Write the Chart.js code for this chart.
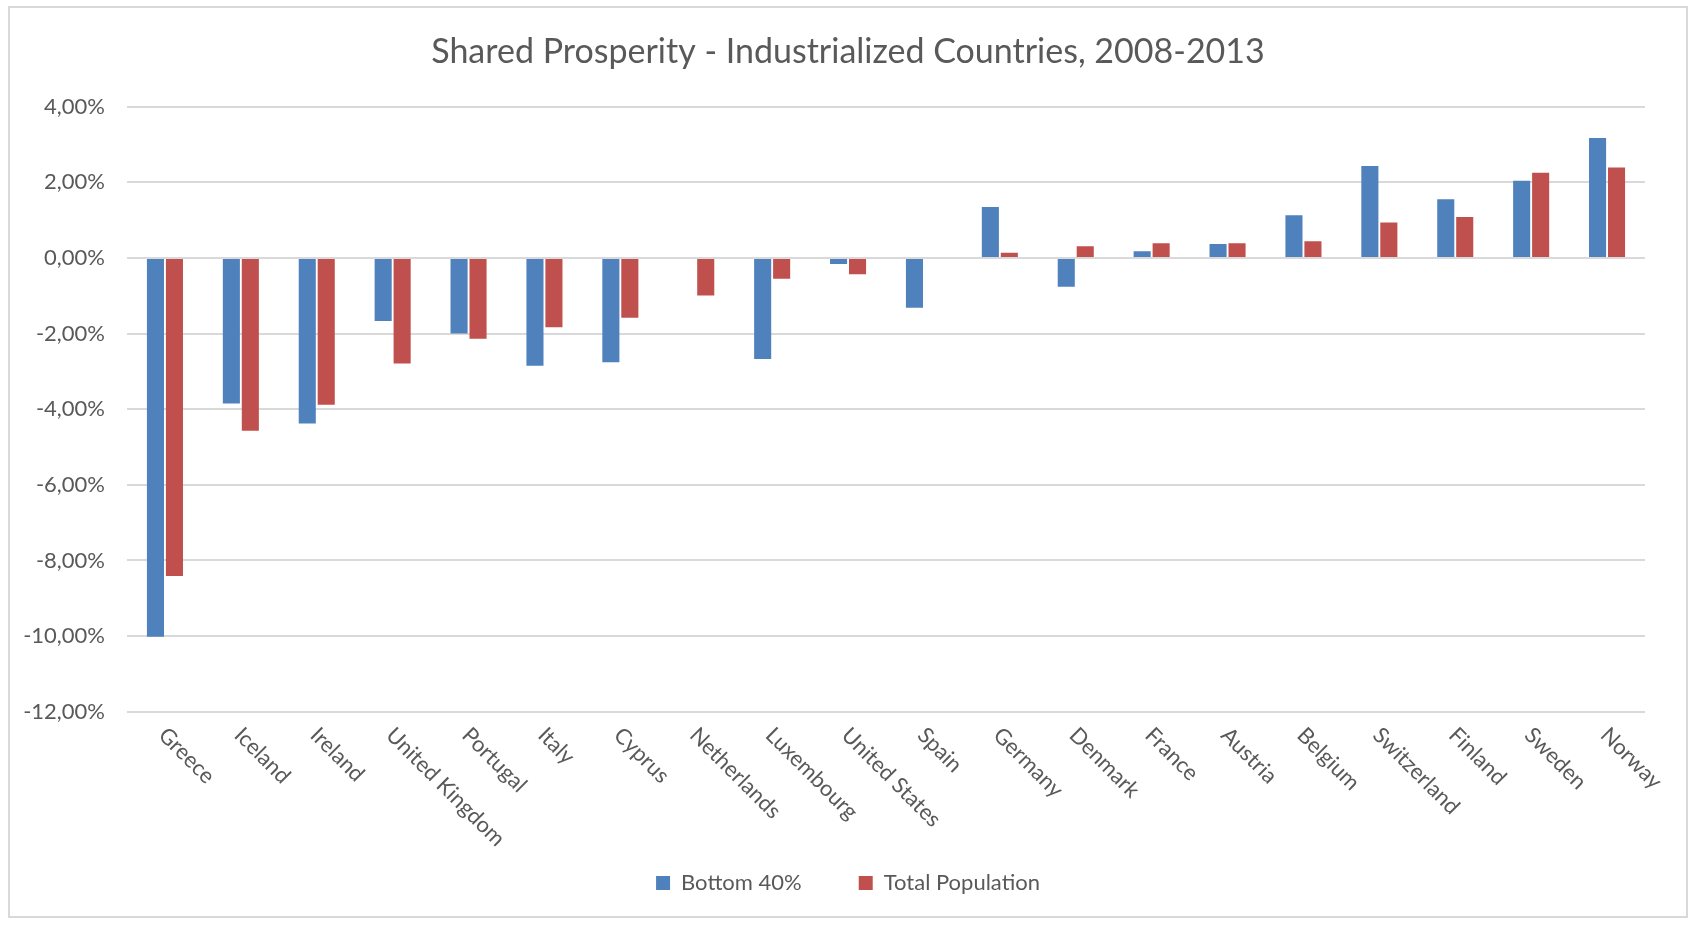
<!DOCTYPE html>
<html>
<head>
<meta charset="utf-8">
<script src="https://cdn.jsdelivr.net/npm/chart.js@4.4.1/dist/chart.umd.min.js"></script>
<style>
  html, body { margin: 0; padding: 0; background: #fff; }
  #wrap { width: 1691px; height: 926px; }
</style>
</head>
<body>
<div id="wrap"><canvas id="prosperityChart" width="1691" height="926"></canvas></div>
<script>
var countries = ["Greece", "Iceland", "Ireland", "United Kingdom", "Portugal", "Italy", "Cyprus", "Netherlands", "Luxembourg", "United States", "Spain", "Germany", "Denmark", "France", "Austria", "Belgium", "Switzerland", "Finland", "Sweden", "Norway"];
var bottom40 = [-10.02, -3.85, -4.38, -1.67, -2.00, -2.85, -2.76, null, -2.67, -0.16, -1.32, 1.35, -0.76, 0.18, 0.37, 1.13, 2.43, 1.55, 2.04, 3.17];
var totalPop = [-8.41, -4.57, -3.88, -2.79, -2.14, -1.83, -1.58, -0.99, -0.55, -0.43, null, 0.14, 0.31, 0.39, 0.39, 0.44, 0.94, 1.08, 2.25, 2.39];
var yMin = -12, yMax = 4, yStep = 2;

var textColor = "#595959";
var fontFamily = "Lato, 'Open Sans', sans-serif";

// frame around the whole chart, like the Excel chart area
var framePlugin = {
    id: 'frame',
    beforeDraw: function(chart) {
        var c = chart.ctx;
        c.save();
        c.strokeStyle = "#d9d9d9";
        c.lineWidth = 2;
        c.strokeRect(9, 7, 1678, 910);
        c.restore();
    }
};

// x labels slanted downwards to the right, drawn at the scale's tick positions
var slantLabels = {
    id: 'slantLabels',
    afterDraw: function(chart) {
        var x = chart.scales.x;
        var c = chart.ctx;
        c.save();
        c.font = "22px " + fontFamily;
        c.fillStyle = textColor;
        c.textAlign = "left";
        c.textBaseline = "top";
        countries.forEach(function(name, i) {
            c.save();
            c.translate(x.getPixelForTick(i) + 5, x.top + 12);
            c.rotate(Math.PI / 4);
            c.fillText(name, 0, 0);
            c.restore();
        });
        c.restore();
    }
};

var legendSize = {
    id: 'legendSize',
    beforeInit: function(chart) {
        if (!chart.legend) return;
        var fit = chart.legend.fit;
        chart.legend.fit = function() {
            fit.call(this);
            this.height = 90;
        };
    }
};

var ctx = document.getElementById('prosperityChart').getContext('2d');
var myChart = new Chart(ctx, {
    type: 'bar',
    data: {
        labels: countries,
        datasets: [{
            label: "Bottom 40%",
            data: bottom40,
            backgroundColor: "#4f81bd",
            categoryPercentage: 0.5,
            barPercentage: 0.9
        }, {
            label: "Total Population",
            data: totalPop,
            backgroundColor: "#c0504d",
            categoryPercentage: 0.5,
            barPercentage: 0.9
        }]
    },
    options: {
        responsive: false,
        animation: false,
        layout: { padding: { top: 0, left: 22, right: 17, bottom: 21 } },
        plugins: {
            title: {
                display: true,
                text: "Shared Prosperity - Industrialized Countries, 2008-2013",
                color: textColor,
                font: { family: fontFamily, size: 34, weight: 'normal' },
                padding: { top: 31.6, bottom: 34.3 }
            },
            legend: {
                position: 'bottom',
                labels: {
                    color: textColor,
                    font: { family: fontFamily, size: 22 },
                    boxWidth: 14,
                    boxHeight: 14,
                    padding: 57
                }
            },
            tooltip: { enabled: false }
        },
        scales: {
            x: {
                grid: { display: false },
                border: { display: false },
                ticks: { display: false },
                afterFit: function(scale) { scale.height = 103.3; }
            },
            y: {
                min: yMin,
                max: yMax,
                grid: { color: "#d9d9d9", lineWidth: 2, drawTicks: false },
                border: { display: false },
                ticks: {
                    stepSize: yStep,
                    padding: 22,
                    color: textColor,
                    font: { family: fontFamily, size: 22 },
                    callback: function(v) { return v.toFixed(2).replace('.', ',') + '%'; }
                },
                afterFit: function(scale) { scale.width = 105; }
            },
            // empty right-hand spacer so the plot ends where the reference does
            y2: {
                position: 'right',
                grid: { display: false },
                border: { display: false },
                ticks: { display: false },
                afterFit: function(scale) { scale.width = 29; }
            }
        }
    },
    plugins: [framePlugin, slantLabels, legendSize]
});
</script>
</body>
</html>
